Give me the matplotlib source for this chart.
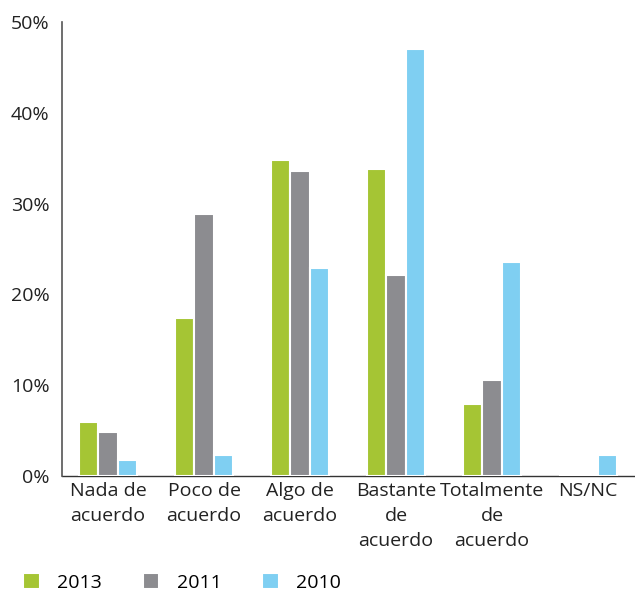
import matplotlib
matplotlib.use("Agg")
import matplotlib.pyplot as plt
import numpy as np

# data (percent)
categories = ["Nada de\nacuerdo", "Poco de\nacuerdo", "Algo de\nacuerdo",
              "Bastante\nde\nacuerdo", "Totalmente\nde\nacuerdo", "NS/NC"]
years = ["2013", "2011", "2010"]
values_2013 = [6.0, 17.4, 34.8, 33.8, 7.9, 0.0]
values_2011 = [4.8, 28.9, 33.6, 22.1, 10.6, 0.0]
values_2010 = [1.8, 2.3, 22.9, 47.0, 23.6, 2.3]
y_ticks = [0, 10, 20, 30, 40, 50]

colors = ["#a5c534", "#8c8c90", "#7fcff2"]
fs = 14

plt.rcParams['font.family'] = ['Open Sans', 'DejaVu Sans']

fig = plt.figure(figsize=(6.35, 5.94), dpi=100)
ax = fig.add_axes([62 / 635, 118 / 594, 1 - 62 / 635, (476 - 22) / 594])

x = np.arange(len(categories))
width = 0.2
series = [values_2013, values_2011, values_2010]
bars = []
for i, (vals, col, yr) in enumerate(zip(series, colors, years)):
    b = ax.bar(x + (i - 1) * width, vals, width=width, color=col,
               edgecolor="white", linewidth=1.5, label=yr, zorder=3)
    bars.append(b)

ax.set_xlim(-0.48, 5.49)
ax.set_ylim(0, 50)
ax.set_yticks(y_ticks)
ax.set_yticklabels([f"{t}%" for t in y_ticks], fontsize=fs, color="#222222")
ax.set_xticks(x)
ax.set_xticklabels(categories, fontsize=fs, color="#222222", linespacing=1.5)
ax.tick_params(axis="both", length=0)
ax.tick_params(axis="y", pad=9)
ax.tick_params(axis="x", pad=4)

for s in ["top", "right"]:
    ax.spines[s].set_visible(False)
ax.spines["left"].set_color("#555555")
ax.spines["bottom"].set_color("#333333")
ax.spines["left"].set_linewidth(1.2)
ax.spines["bottom"].set_linewidth(1.0)
ax.spines["bottom"].set_zorder(1)

fig.legend(handles=bars, labels=years, loc="lower left", bbox_to_anchor=(0.012, -0.022),
           ncol=3, frameon=False, fontsize=fs, handlelength=0.85, handleheight=0.85,
           handletextpad=0.9, columnspacing=2.1, borderpad=0.3)

fig.savefig("out.png", dpi=100)
